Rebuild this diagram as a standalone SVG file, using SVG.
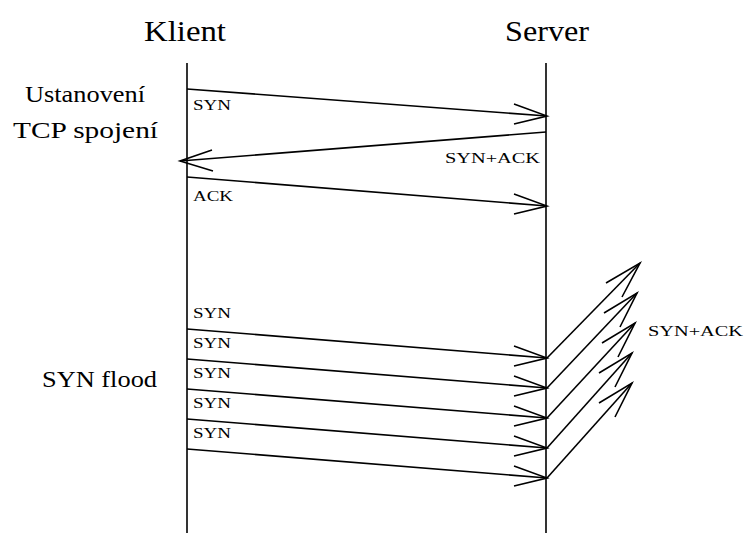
<svg xmlns="http://www.w3.org/2000/svg" width="745" height="533" viewBox="0 0 745 533">
<style>
.t{font-family:'Liberation Serif','Times New Roman',serif;fill:#000}
.big{font-size:30px}
.mid{font-size:23px}
.sm{font-size:14px}
.ln{stroke:#000;stroke-width:1.6;fill:none}
.ah{stroke:#000;stroke-width:1.6;fill:none}
</style>
<rect width="745" height="533" fill="#fff"/>
<g id="klient">
<text class="t big" x="185" y="41" text-anchor="middle" textLength="82" lengthAdjust="spacingAndGlyphs">Klient</text>
<line class="ln" x1="187" y1="63" x2="187" y2="533"/>
</g>
<g id="server">
<text class="t big" x="547" y="41" text-anchor="middle" textLength="84" lengthAdjust="spacingAndGlyphs">Server</text>
<line class="ln" x1="546" y1="63" x2="546" y2="533"/>
</g>
<g id="labels">
<text class="t mid" x="85" y="102" text-anchor="middle" textLength="120" lengthAdjust="spacingAndGlyphs">Ustanovení</text>
<text class="t mid" x="85.5" y="138" text-anchor="middle" textLength="145" lengthAdjust="spacingAndGlyphs">TCP spojení</text>
<text class="t mid" x="99.5" y="387" text-anchor="middle" textLength="115" lengthAdjust="spacingAndGlyphs">SYN flood</text>
</g>
<g id="connectors">
<line class="ln" x1="187" y1="89" x2="547" y2="116"/>
<polyline class="ah" points="514,104 547,116 514,124"/>
<line class="ln" x1="546" y1="132" x2="180" y2="161"/>
<polyline class="ah" points="212,150 180,161 213,171"/>
<line class="ln" x1="187" y1="177" x2="547" y2="206"/>
<polyline class="ah" points="514,194 547,206 514,214"/>
<line class="ln" x1="187" y1="329" x2="547" y2="358"/>
<polyline class="ah" points="514,346 547,358 514,366"/>
<line class="ln" x1="187" y1="359" x2="547" y2="388"/>
<polyline class="ah" points="514,376 547,388 514,396"/>
<line class="ln" x1="187" y1="389" x2="547" y2="418"/>
<polyline class="ah" points="514,406 547,418 514,426"/>
<line class="ln" x1="187" y1="419" x2="547" y2="448"/>
<polyline class="ah" points="514,436 547,448 514,456"/>
<line class="ln" x1="187" y1="449" x2="547" y2="478"/>
<polyline class="ah" points="514,466 547,478 514,486"/>
<line class="ln" x1="547" y1="358" x2="640" y2="263"/>
<polyline class="ah" points="606,283 640,263 622,297"/>
<line class="ln" x1="547" y1="388" x2="637" y2="293"/>
<polyline class="ah" points="604,313 637,293 620,327"/>
<line class="ln" x1="547" y1="418" x2="635" y2="323"/>
<polyline class="ah" points="602,343 635,323 618,357"/>
<line class="ln" x1="547" y1="448" x2="632" y2="353"/>
<polyline class="ah" points="599,373 632,353 615,387"/>
<line class="ln" x1="547" y1="478" x2="632" y2="383"/>
<polyline class="ah" points="599,403 632,383 615,417"/>
</g>
<g id="msg-labels">
<text class="t sm" x="193" y="110" textLength="38" lengthAdjust="spacingAndGlyphs">SYN</text>
<text class="t sm" x="445" y="163" textLength="95" lengthAdjust="spacingAndGlyphs">SYN+ACK</text>
<text class="t sm" x="193" y="201" textLength="40" lengthAdjust="spacingAndGlyphs">ACK</text>
<text class="t sm" x="193" y="318" textLength="38" lengthAdjust="spacingAndGlyphs">SYN</text>
<text class="t sm" x="193" y="348" textLength="38" lengthAdjust="spacingAndGlyphs">SYN</text>
<text class="t sm" x="193" y="378" textLength="38" lengthAdjust="spacingAndGlyphs">SYN</text>
<text class="t sm" x="193" y="408" textLength="38" lengthAdjust="spacingAndGlyphs">SYN</text>
<text class="t sm" x="193" y="438" textLength="38" lengthAdjust="spacingAndGlyphs">SYN</text>
<text class="t sm" x="648" y="336" textLength="95" lengthAdjust="spacingAndGlyphs">SYN+ACK</text>
</g>
</svg>
